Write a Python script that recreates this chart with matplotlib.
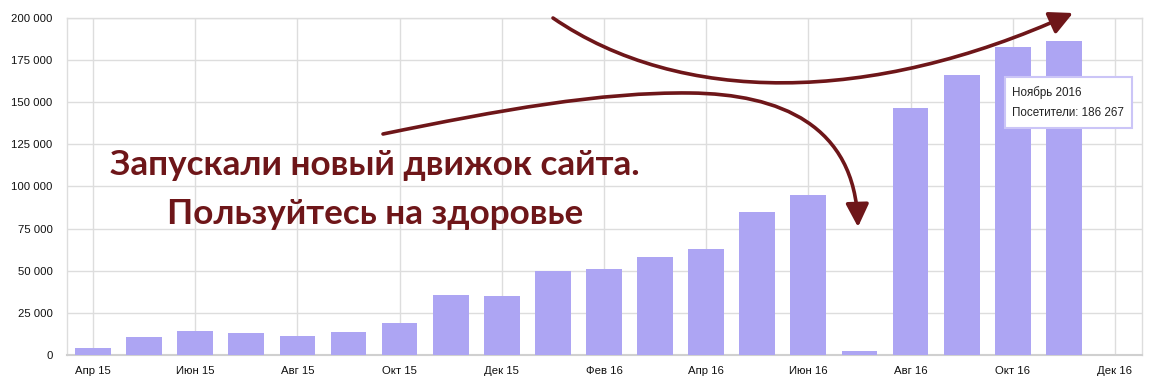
import matplotlib
matplotlib.use("Agg")
import matplotlib.pyplot as plt
from matplotlib.path import Path
from matplotlib.patches import FancyArrowPatch, FancyBboxPatch

months = ["Апр 15", "Май 15", "Июн 15", "Июл 15", "Авг 15", "Сен 15", "Окт 15",
          "Ноя 15", "Дек 15", "Янв 16", "Фев 16", "Мар 16", "Апр 16", "Май 16",
          "Июн 16", "Июл 16", "Авг 16", "Сен 16", "Окт 16", "Ноя 16", "Дек 16"]
visitors = [4300, 10800, 14400, 13200, 11400, 13800, 19100,
            35700, 35100, 49900, 51100, 58200, 62900, 84800,
            94900, 2600, 146400, 165900, 182500, 186267, None]
y_ticks = [0, 25000, 50000, 75000, 100000, 125000, 150000, 175000, 200000]
tooltip_title = "Ноябрь 2016"
tooltip_text = "Посетители: 186 267"
headline = ["Запускали новый движок сайта.", "Пользуйтесь на здоровье"]

W, H = 1158, 386
BAR = "#ada5f3"
RED = "#6e1619"
GRID = "#dddddd"

plt.rcParams["font.family"] = ["Liberation Sans", "DejaVu Sans"]
fig = plt.figure(figsize=(W / 100, H / 100), dpi=100)
ax = fig.add_axes([67 / W, 1 - 355.3 / H, (1142 - 67) / W, (355.3 - 17.7) / H])

xs = [i for i, v in enumerate(visitors) if v is not None]
vals = [v for v in visitors if v is not None]
ax.bar(xs, vals, width=0.7, color=BAR, zorder=3)

ax.set_xlim(-0.51, 20.53)
ax.set_ylim(0, 200000)
ax.set_yticks(y_ticks)
ax.set_yticklabels([f"{t:,}".replace(",", " ") for t in y_ticks])
tick_idx = list(range(0, len(months), 2))
ax.set_xticks(tick_idx)
ax.set_xticklabels([months[i] for i in tick_idx])
ax.tick_params(axis="both", length=0, labelsize=8.2, colors="#111111")
ax.tick_params(axis="y", pad=10.5)
ax.tick_params(axis="x", pad=8)
ax.grid(True, color=GRID, linewidth=1.0, zorder=0)
ax.set_axisbelow(True)
for s in ax.spines.values():
    s.set_color(GRID)
    s.set_linewidth(1.0)
ax.spines["bottom"].set_color("#d0d0d0")
ax.spines["bottom"].set_linewidth(1.5)


def P(x, y):
    return (x / W, 1 - y / H)


# headline text
for txt, yb in zip(headline, [175, 224]):
    fig.text(*P(375, yb), txt, ha="center", va="baseline", fontsize=25.3,
             fontweight="bold", color=RED, family=["Lato", "DejaVu Sans"],
             zorder=10)

# arrows
C = Path.CURVE4
top = Path([P(553, 18), P(680, 105), P(870, 105), P(1073, 13)],
           [Path.MOVETO, C, C, C])
fig.patches.append(FancyArrowPatch(path=top, arrowstyle="-|>,head_length=14,head_width=7",
                                   color=RED, lw=2.6, shrinkA=0, shrinkB=0,
                                   transform=fig.transFigure, figure=fig, zorder=10))
down = Path([P(383, 134), P(500, 110), P(600, 92), P(690, 93),
             P(780, 94), P(855, 125), P(858, 227)],
            [Path.MOVETO, C, C, C, C, C, C])
fig.patches.append(FancyArrowPatch(path=down, arrowstyle="-|>,head_length=14,head_width=7",
                                   color=RED, lw=2.6, shrinkA=0, shrinkB=0,
                                   transform=fig.transFigure, figure=fig, zorder=10))

# tooltip
x0, y0 = P(1005, 128)
x1, y1 = P(1132, 77)
fig.patches.append(FancyBboxPatch((x0, y0), x1 - x0, y1 - y0, boxstyle="square,pad=0",
                                  facecolor="white", edgecolor="#cbc5f7", lw=1.5,
                                  transform=fig.transFigure, figure=fig, zorder=11))
fig.text(*P(1012, 93), tooltip_title, ha="left", va="center", fontsize=8.4,
         color="#222222", zorder=12)
fig.text(*P(1012, 113), tooltip_text, ha="left", va="center", fontsize=8.4,
         color="#222222", zorder=12)

fig.savefig("out.png", dpi=100)
